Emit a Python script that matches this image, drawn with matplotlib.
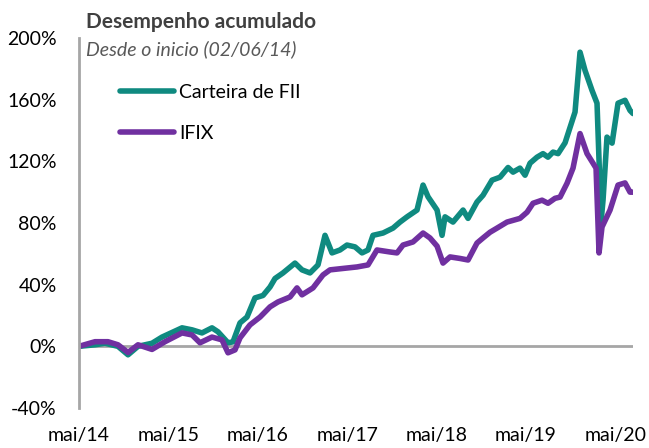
import matplotlib
matplotlib.use("Agg")
import matplotlib.pyplot as plt
import matplotlib.ticker as mticker

# meses desde o inicio (02/06/14) e desempenho acumulado (%)
meses_fii = [0.0, 2.15, 3.49, 5.23, 6.58, 7.92, 9.80, 11.14, 13.83, 15.17,
             16.51, 17.85, 18.66, 20.00, 20.67, 21.61, 22.55, 23.62, 24.70, 25.64,
             26.31, 27.38, 28.99, 29.93, 31.01, 32.08, 33.02, 33.96, 35.03, 35.97,
             37.05, 37.99, 38.79, 39.46, 40.81, 42.15, 43.09, 44.03, 45.37, 46.18,
             46.85, 48.06, 48.73, 49.13, 50.20, 51.55, 52.22, 53.42, 54.23, 55.44,
             56.51, 57.59, 58.26, 59.19, 59.87, 60.54, 61.48, 62.28, 62.95, 63.63,
             64.30, 65.24, 65.91, 66.58, 67.25, 67.92, 68.86, 69.53, 69.80, 70.07,
             70.34, 70.87, 71.55, 72.35, 73.29, 73.96, 74.36]
carteira = [0, 1, 2, 0, -5.5, 0, 2, 6, 12, 10.7,
            8.7, 12, 9.4, 2.3, 2.9, 15.2, 19, 31.4, 33, 38.5,
            44, 47.6, 54, 49.6, 47.6, 52.8, 72, 60.6, 62.5, 65.7,
            64.5, 60.6, 62.5, 72, 73.5, 76.7, 80.6, 84, 88.4, 104.6,
            97, 88.4, 72, 84, 80.6, 88.4, 83, 93.6, 98, 107.8,
            109.7, 116, 113, 115.6, 111, 118.8, 122.7, 125, 122.7, 126,
            125, 132, 142, 152, 190.8, 179, 166, 157.7, 120.7, 80.6,
            95, 135.7, 131.8, 157.7, 159.6, 153, 151]

meses_ifix = [0.0, 2.15, 3.89, 5.23, 6.58, 7.92, 9.80, 11.54, 13.83, 15.17,
              16.24, 17.85, 19.19, 20.00, 20.94, 21.61, 22.95, 24.30, 25.64, 26.71,
              28.32, 29.26, 29.93, 31.41, 32.75, 33.69, 35.97, 37.32, 38.79, 40.00,
              41.75, 42.69, 43.49, 44.83, 46.18, 47.11, 48.06, 48.86, 49.80, 51.14,
              52.22, 53.42, 54.23, 55.17, 56.11, 57.45, 59.19, 60.14, 60.94, 62.15,
              62.95, 63.89, 64.57, 65.51, 66.31, 67.25, 68.19, 68.99, 69.40, 69.80,
              70.20, 71.28, 72.35, 73.29, 73.96, 74.36]
ifix = [0, 3, 3, 1, -4, 1, -2, 3, 8.7, 7.4,
        2.3, 6, 4.2, -4.2, -2.3, 5.5, 13.9, 19, 25.6, 28.8,
        32, 37.9, 33.4, 37.9, 46.3, 49.6, 50.8, 51.5, 52.8, 62.5,
        61.2, 60.6, 65.7, 67.7, 73.5, 70.3, 65, 54, 58, 57,
        56, 67, 70.3, 74, 76.7, 80.6, 83, 87, 92.8, 94.8,
        92.8, 96, 96.8, 105.8, 115.6, 138, 125, 118.8, 115.6, 60.6,
        77.4, 88.4, 104.6, 106, 100, 100]

ticks_x = [0, 12, 24, 36, 48, 60, 72]
rotulos_x = ["mai/14", "mai/15", "mai/16", "mai/17", "mai/18", "mai/19", "mai/20"]

cor_fii = "#0f8a80"
cor_ifix = "#7030a0"
cinza = "#a6a6a6"

plt.rcParams["font.family"] = ["Lato", "DejaVu Sans"]

fig = plt.figure(figsize=(6.49, 4.48), dpi=100)
ax = fig.add_axes([79 / 649, 1 - 408 / 448, (633 - 79) / 649, (408 - 38) / 448])

ax.plot(meses_fii, carteira, color=cor_fii, lw=4,
        solid_capstyle="round", solid_joinstyle="round", label="Carteira de FII")
ax.plot(meses_ifix, ifix, color=cor_ifix, lw=4,
        solid_capstyle="round", solid_joinstyle="round", label="IFIX")

ax.axhline(0, color=cinza, lw=2, zorder=0)
ax.set_ylim(-40, 200)
ax.set_yticks(range(-40, 201, 40))
ax.yaxis.set_major_formatter(mticker.FuncFormatter(lambda v, p: f"{v:.0f}%"))
ax.set_xlim(0, meses_fii[-1])
ax.set_xticks(ticks_x)
ax.set_xticklabels(rotulos_x)

for s in ["top", "right", "bottom"]:
    ax.spines[s].set_visible(False)
ax.spines["left"].set_color(cinza)
ax.spines["left"].set_linewidth(2)
ax.tick_params(axis="y", length=0, pad=16, labelsize=14, labelcolor="black")
ax.tick_params(axis="x", length=0, pad=14, labelsize=14, labelcolor="black")

fig.text(86 / 649, 1 - 28 / 448, "Desempenho acumulado", fontsize=15,
         fontweight="bold", color="#404040", va="baseline")
fig.text(86 / 649, 1 - 55 / 448, "Desde o inicio (02/06/14)", fontsize=14,
         style="italic", color="#595959", va="baseline")

ax.legend(loc="upper left", bbox_to_anchor=((120 - 79) / 554, (408 - 84) / 370),
          frameon=False, fontsize=14, handlelength=2.8, handletextpad=0.25,
          labelspacing=1.25, borderpad=0, borderaxespad=0)

fig.savefig("out.png", dpi=100)
